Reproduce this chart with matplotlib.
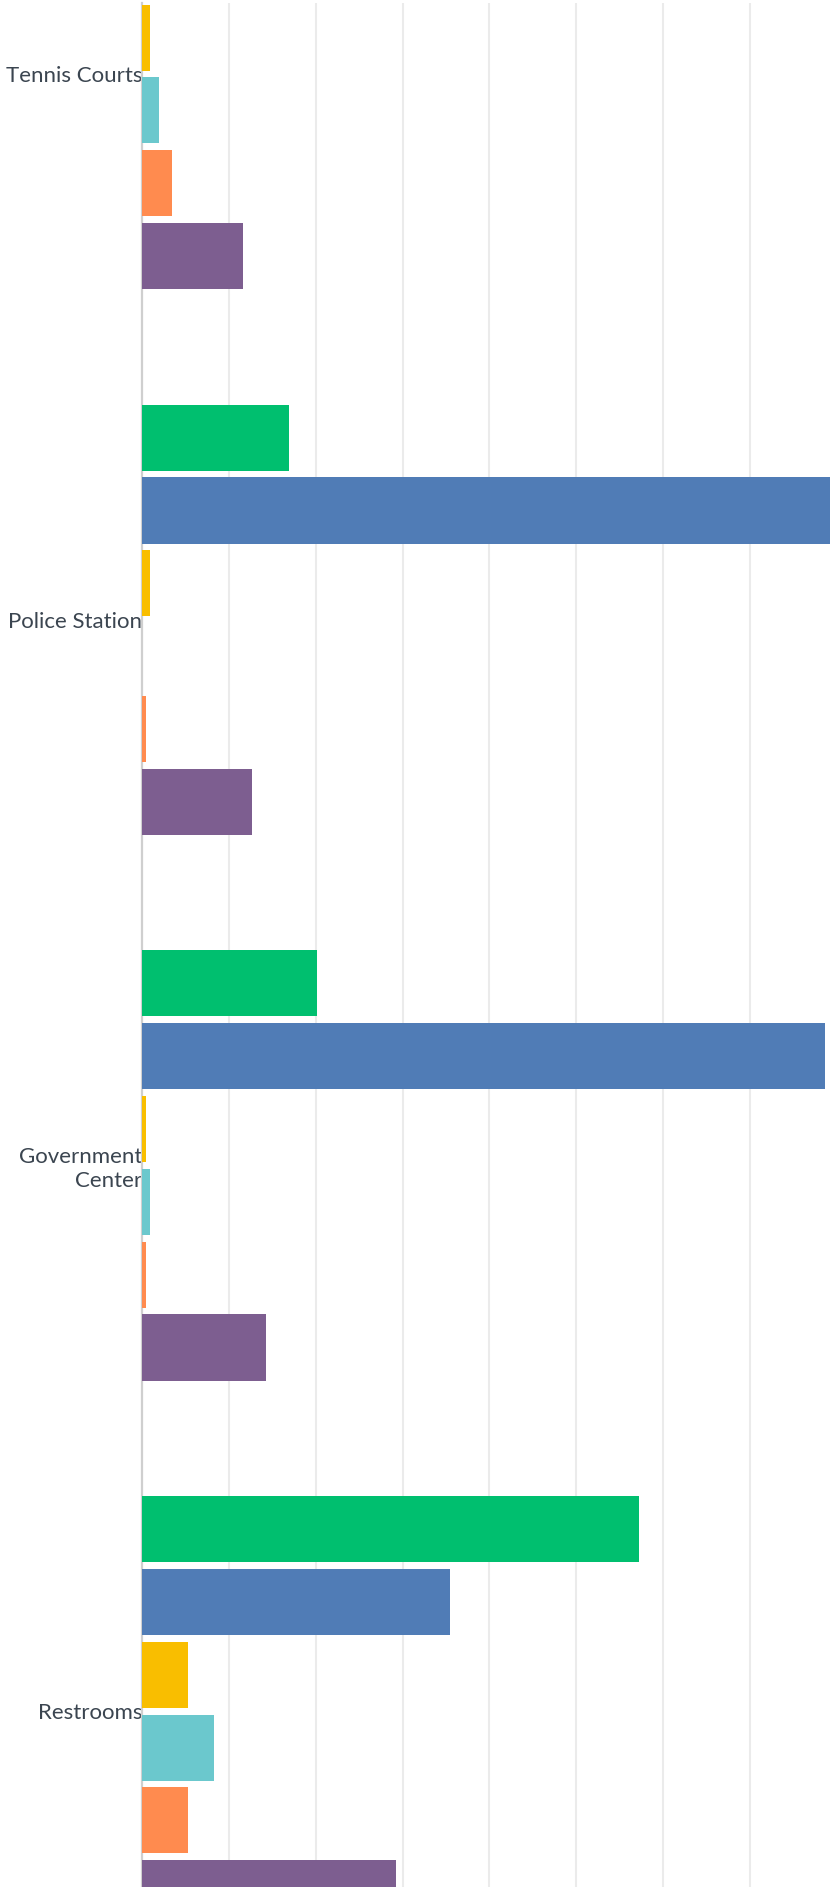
import numpy as np
import matplotlib
matplotlib.use("Agg")
import matplotlib.pyplot as plt

# Facilities (top to bottom) and the six response series drawn for each
categories = ["Tennis Courts", "Police Station", "Government\nCenter", "Restrooms"]
series_names = ["Series 1", "Series 2", "Series 3", "Series 4", "Series 5", "Series 6"]
series_colors = ["#00bf6f", "#507cb6", "#f9be00", "#6bc8cd", "#ff8b4f", "#7d5e90"]

# Percent of responses per facility, one list per series
s1_green = [np.nan, 16.9, 20.1, 57.2]
s2_blue = [np.nan, 79.2, 78.6, 35.5]
s3_yellow = [0.92, 0.92, 0.46, 5.3]
s4_teal = [1.96, 0.0, 0.92, 8.3]
s5_orange = [3.46, 0.46, 0.46, 5.3]
s6_purple = [11.6, 12.7, 14.3, 29.2]
series_values = [s1_green, s2_blue, s3_yellow, s4_teal, s5_orange, s6_purple]

grid_ticks = [10, 20, 30, 40, 50, 60, 70]

plt.rcParams["font.family"] = ["Lato", "DejaVu Sans"]

W, H = 833, 1887
fig = plt.figure(figsize=(W / 100, H / 100), dpi=100)
ax = fig.add_axes([142 / W, 0, 1 - 142 / W, (H - 3) / H])

n_series = len(series_values)
pitch = 0.1334
bar_h = 0.121
y_base = np.arange(len(categories))
for j, (vals, color) in enumerate(zip(series_values, series_colors)):
    offs = (j - (n_series - 1) / 2) * pitch
    v = np.array(vals, dtype=float)
    mask = ~np.isnan(v)
    ax.barh(y_base[mask] + offs, v[mask], height=bar_h, color=color,
            label=series_names[j], zorder=3, linewidth=0)

ax.set_ylim(3.322, -0.130)
ax.set_xlim(0, 79.56)

ax.set_xticks(grid_ticks)
ax.xaxis.grid(True, color="#ebebeb", linewidth=1.5, zorder=0)
ax.tick_params(axis="x", length=0, labelbottom=False)

ax.set_yticks(y_base)
ax.set_yticklabels(categories, fontsize=16, color="#3b4550", ha="right",
                   linespacing=1.2)
ax.tick_params(axis="y", length=0, pad=0)

for side in ["top", "right", "bottom"]:
    ax.spines[side].set_visible(False)
ax.spines["left"].set_color("#cfcfcf")
ax.spines["left"].set_linewidth(1.6)
ax.spines["left"].set_zorder(2)

fig.savefig("out.png", dpi=100, facecolor="white")
